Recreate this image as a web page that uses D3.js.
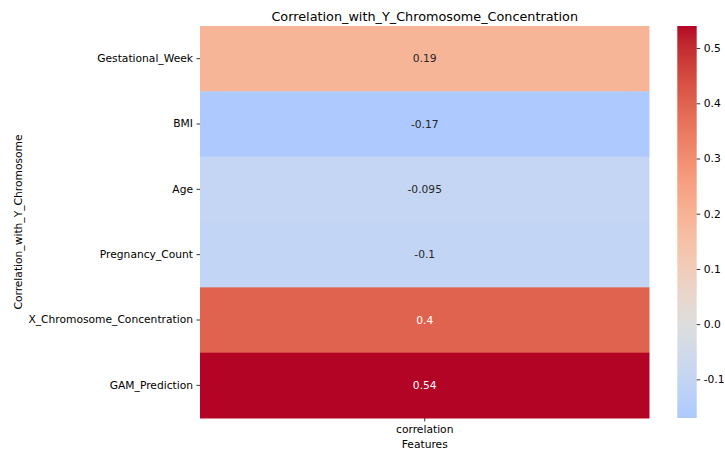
<!DOCTYPE html>
<html>
<head>
<meta charset="utf-8">
<script src="https://cdn.jsdelivr.net/npm/d3@7"></script>
<style>
  html, body { margin: 0; padding: 0; background: #fff; }
  svg { display: block; font-family: "DejaVu Sans", sans-serif; }
</style>
</head>
<body>
<svg id="chart" width="725" height="452"></svg>
<script>
// Correlation of each feature with Y chromosome concentration
const features = ["Gestational_Week", "BMI", "Age", "Pregnancy_Count", "X_Chromosome_Concentration", "GAM_Prediction"];
const correlation = [0.19, -0.17, -0.095, -0.1, 0.4, 0.54];
const columns = ["correlation"];
const cbarTicks = [-0.1, 0.0, 0.1, 0.2, 0.3, 0.4, 0.5];

const plot = { left: 200, right: 649.5, top: 26, bottom: 418 };
const cbar = { left: 677.3, right: 696.7 };
const FS = 10.7, TITLE_FS = 12.8;

// ---- diverging "coolwarm" map (Moreland Msh interpolation) ----
const WX = 0.95047, WY = 1.0, WZ = 1.08883;
function lin(c) { c /= 255; return c <= 0.04045 ? c / 12.92 : Math.pow((c + 0.055) / 1.055, 2.4); }
function gam(c) { const v = c <= 0.0031308 ? 12.92 * c : 1.055 * Math.pow(c, 1 / 2.4) - 0.055; return Math.max(0, Math.min(255, v * 255)); }
function fLab(t) { return t > 0.008856 ? Math.cbrt(t) : 7.787 * t + 16 / 116; }
function fInv(t) { return t > 0.206893 ? t * t * t : (t - 16 / 116) / 7.787; }
function rgb2msh(rgb) {
  const r = lin(rgb[0]), g = lin(rgb[1]), b = lin(rgb[2]);
  const X = 0.4124 * r + 0.3576 * g + 0.1805 * b;
  const Y = 0.2126 * r + 0.7152 * g + 0.0722 * b;
  const Z = 0.0193 * r + 0.1192 * g + 0.9505 * b;
  const fx = fLab(X / WX), fy = fLab(Y / WY), fz = fLab(Z / WZ);
  const L = 116 * fy - 16, A = 500 * (fx - fy), B = 200 * (fy - fz);
  const M = Math.sqrt(L * L + A * A + B * B);
  return [M, Math.acos(L / M), Math.atan2(B, A)];
}
function msh2rgb(M, s, h) {
  const L = M * Math.cos(s), A = M * Math.sin(s) * Math.cos(h), B = M * Math.sin(s) * Math.sin(h);
  const fy = (L + 16) / 116, fx = fy + A / 500, fz = fy - B / 200;
  const X = WX * fInv(fx), Y = WY * fInv(fy), Z = WZ * fInv(fz);
  const r = 3.2406 * X - 1.5372 * Y - 0.4986 * Z;
  const g = -0.9689 * X + 1.8758 * Y + 0.0415 * Z;
  const b = 0.0557 * X - 0.2040 * Y + 1.0570 * Z;
  return [gam(r), gam(g), gam(b)];
}
function adjustHue(M, s, h, Mu) {
  if (M >= Mu - 0.1) return h;
  const spin = s * Math.sqrt(Mu * Mu - M * M) / (M * Math.sin(s));
  return h > -Math.PI / 3 ? h + spin : h - spin;
}
const lowMsh = rgb2msh([59, 76, 192]), highMsh = rgb2msh([180, 4, 38]);
function coolwarm(t) {
  let [M1, s1, h1] = lowMsh, [M2, s2, h2] = highMsh;
  const Mmid = Math.max(M1, M2, 88);
  if (t < 0.5) { M2 = Mmid; s2 = 0; h2 = 0; t = 2 * t; }
  else { M1 = Mmid; s1 = 0; h1 = 0; t = 2 * t - 1; }
  if (s1 < 0.05 && s2 > 0.05) h1 = adjustHue(M2, s2, h2, M1);
  else if (s2 < 0.05 && s1 > 0.05) h2 = adjustHue(M1, s1, h1, M2);
  const rgb = msh2rgb((1 - t) * M1 + t * M2, (1 - t) * s1 + t * s2, (1 - t) * h1 + t * h2);
  return d3.rgb(rgb[0], rgb[1], rgb[2]);
}

// centred at zero: symmetric half-range drives the map, colour bar spans the data
const vmin = d3.min(correlation), vmax = d3.max(correlation);
const vrange = Math.max(vmax, -vmin);
const colorOf = v => coolwarm(0.5 + v / (2 * vrange));

function luminance(c) {
  return 0.2126 * lin(c.r) + 0.7152 * lin(c.g) + 0.0722 * lin(c.b);
}

const svg = d3.select("#chart");

const x = d3.scaleBand().domain(columns).range([plot.left, plot.right]);
const y = d3.scaleBand().domain(features).range([plot.top, plot.bottom]);
const cScale = d3.scaleLinear().domain([vmin, vmax]).range([plot.bottom, plot.top]);

const rows = features.map((f, i) => ({ feature: f, value: correlation[i] }));

// cells
svg.append("g").selectAll("rect").data(rows).join("rect")
  .attr("x", x("correlation"))
  .attr("y", d => y(d.feature))
  .attr("width", x.bandwidth())
  .attr("height", y.bandwidth() + 0.5)
  .attr("fill", d => colorOf(d.value));

// annotations
const plainMinus = d3.formatLocale({ decimal: ".", thousands: ",", grouping: [3], currency: ["", ""], minus: "-" });
const annFmt = plainMinus.format(".2~g");
svg.append("g").selectAll("text").data(rows).join("text")
  .attr("x", x("correlation") + x.bandwidth() / 2)
  .attr("y", d => y(d.feature) + y.bandwidth() / 2)
  .attr("text-anchor", "middle")
  .attr("dominant-baseline", "central")
  .attr("font-size", FS)
  .attr("fill", d => luminance(colorOf(d.value)) > 0.408 ? "#262626" : "#ffffff")
  .text(d => annFmt(d.value));

function styleAxis(g) {
  g.select(".domain").remove();
  g.selectAll("text").attr("font-size", FS).attr("fill", "#000").style("font-family", "DejaVu Sans");
  g.selectAll("line").attr("stroke", "#000").attr("stroke-width", 0.8);
}

// axes
svg.append("g")
  .attr("transform", `translate(${plot.left},0)`)
  .call(d3.axisLeft(y).tickSize(3.5).tickPadding(3.5))
  .call(styleAxis);

svg.append("g")
  .attr("transform", `translate(0,${plot.bottom})`)
  .call(d3.axisBottom(x).tickSize(3.5).tickPadding(3.5))
  .call(styleAxis);

// titles
svg.append("text")
  .attr("x", (plot.left + plot.right) / 2).attr("y", 20.5)
  .attr("text-anchor", "middle").attr("font-size", TITLE_FS).attr("fill", "#000")
  .text("Correlation_with_Y_Chromosome_Concentration");
svg.append("text")
  .attr("x", (plot.left + plot.right) / 2).attr("y", 448)
  .attr("text-anchor", "middle").attr("font-size", FS).attr("fill", "#000")
  .text("Features");
svg.append("text")
  .attr("transform", `translate(22,${(plot.top + plot.bottom) / 2}) rotate(-90)`)
  .attr("text-anchor", "middle").attr("font-size", FS).attr("fill", "#000")
  .text("Correlation_with_Y_Chromosome");

// colour bar
const defs = svg.append("defs");
const grad = defs.append("linearGradient").attr("id", "cbar-grad")
  .attr("x1", 0).attr("y1", 1).attr("x2", 0).attr("y2", 0);
d3.range(0, 65).forEach(i => {
  const t = i / 64;
  grad.append("stop").attr("offset", t).attr("stop-color", colorOf(vmin + t * (vmax - vmin)));
});
svg.append("rect")
  .attr("x", cbar.left).attr("y", plot.top)
  .attr("width", cbar.right - cbar.left).attr("height", plot.bottom - plot.top)
  .attr("fill", "url(#cbar-grad)");

svg.append("g")
  .attr("transform", `translate(${cbar.right},0)`)
  .call(d3.axisRight(cScale).tickValues(cbarTicks).tickFormat(plainMinus.format(".1f")).tickSize(3.5).tickPadding(3.5))
  .call(styleAxis);
</script>
</body>
</html>
